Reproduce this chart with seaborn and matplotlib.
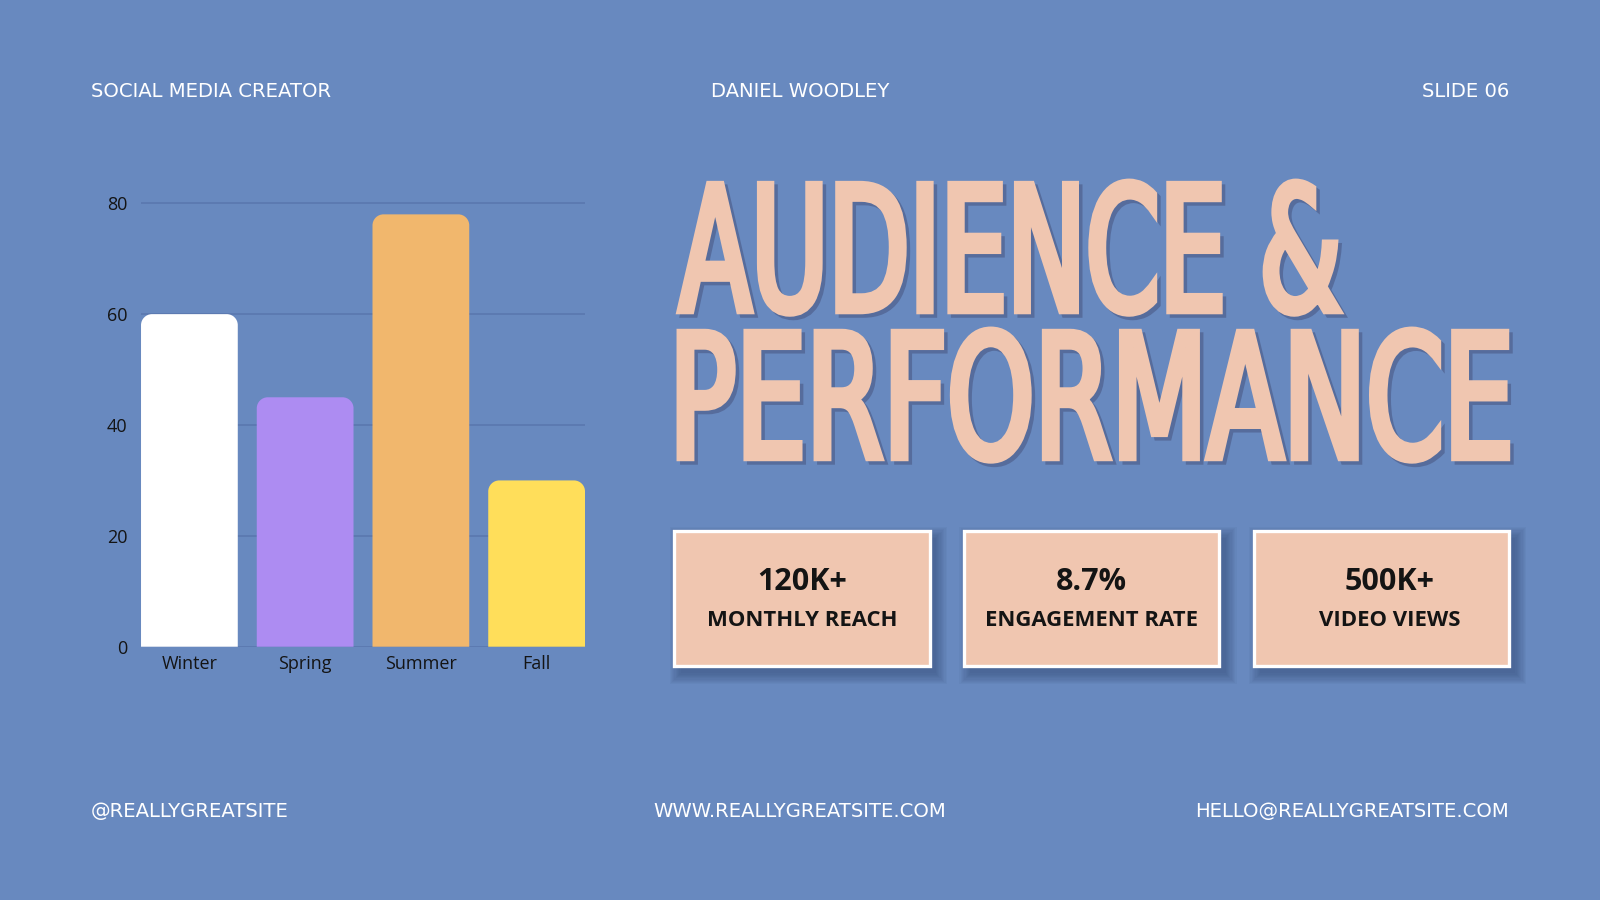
import numpy as np
import pandas as pd
import matplotlib
matplotlib.use("Agg")
import matplotlib.pyplot as plt
import seaborn as sns
from matplotlib.path import Path
from matplotlib.patches import PathPatch, Rectangle
from matplotlib.patheffects import AbstractPathEffect
from matplotlib.transforms import Affine2D
from matplotlib.textpath import TextPath
from matplotlib.font_manager import FontProperties
from matplotlib.colors import to_rgba

# ---------------- data ----------------
seasons = ["Winter", "Spring", "Summer", "Fall"]
values = [60, 45, 78, 30]
bar_colors = ["#FFFFFF", "#AD8CF2", "#F1B76D", "#FFDE5A"]
y_ticks = [0, 20, 40, 60, 80]

stat_values = ["120K+", "8.7%", "500K+"]
stat_labels = ["MONTHLY REACH", "ENGAGEMENT RATE", "VIDEO VIEWS"]

header_texts = ["SOCIAL MEDIA CREATOR", "DANIEL WOODLEY", "SLIDE 06"]
footer_texts = ["@REALLYGREATSITE", "WWW.REALLYGREATSITE.COM", "HELLO@REALLYGREATSITE.COM"]
title_lines = ["AUDIENCE &", "PERFORMANCE"]

# ---------------- style ----------------
BG = "#6889BF"
GRID = "#5A78AF"
PEACH = "#F0C6B0"
DARK = "#141414"
TITLE_SHADOW = "#566C9C"

sns.set_theme(style="white")
plt.rcParams["font.family"] = ["Open Sans", "DejaVu Sans"]

DPI = 100
fig = plt.figure(figsize=(16, 9), dpi=DPI, facecolor=BG)
FW, FH = 1600, 900
W, H = 1568.0, 882.0  # layout reference grid


def fx(x):
    return x / W


def fy(y):
    return 1 - y / H


# ---------------- bar chart ----------------
zero_y, unit_px = 633.8, 5.4325
ymax = 82
ax_left, ax_right = 138.2, 573.3
ax = fig.add_axes([fx(ax_left), fy(zero_y), fx(ax_right) - fx(ax_left),
                   fy(zero_y - ymax * unit_px) - fy(zero_y)])
ax.set_facecolor("none")

df = pd.DataFrame({"season": seasons, "value": values})
bar_w = 0.836
sns.barplot(data=df, x="season", y="value", hue="season", palette=bar_colors,
            width=bar_w, saturation=1, legend=False, ax=ax, zorder=3)

half = bar_w / 2
ax.set_xlim(-half, len(seasons) - 1 + half)
ax.set_ylim(0, ymax)
ax.set_yticks(y_ticks)
ax.set_xlabel("")
ax.set_ylabel("")
ax.set_axisbelow(True)
ax.yaxis.grid(True, color=GRID, lw=1.2)
ax.xaxis.grid(False)
sns.despine(ax=ax, left=True, bottom=True)
ax.tick_params(axis="y", length=0, pad=10, labelsize=13, labelcolor=DARK)
ax.tick_params(axis="x", length=0, pad=6, labelsize=13, labelcolor=DARK)

# round the top corners of each bar
pos = ax.get_position()
px_per_x = pos.width * FW / (ax.get_xlim()[1] - ax.get_xlim()[0])
px_per_y = pos.height * FH / (ax.get_ylim()[1] - ax.get_ylim()[0])
r_px = 11.0
rx, ry = r_px / px_per_x, r_px / px_per_y
k = 0.5523
for p in list(ax.patches):
    x0, w, h = p.get_x(), p.get_width(), p.get_height()
    x1 = x0 + w
    fc = p.get_facecolor()
    verts = [(x0, 0), (x0, h - ry),
             (x0, h - ry + k * ry), (x0 + rx - k * rx, h), (x0 + rx, h),
             (x1 - rx, h),
             (x1 - rx + k * rx, h), (x1, h - ry + k * ry), (x1, h - ry),
             (x1, 0), (x0, 0)]
    codes = [Path.MOVETO, Path.LINETO,
             Path.CURVE4, Path.CURVE4, Path.CURVE4,
             Path.LINETO,
             Path.CURVE4, Path.CURVE4, Path.CURVE4,
             Path.LINETO, Path.CLOSEPOLY]
    p.remove()
    ax.add_patch(PathPatch(Path(verts, codes), facecolor=fc, edgecolor="none", zorder=3))

# ---------------- header / footer ----------------
hdr_kw = dict(color="white", fontsize=14.1, va="center", family=["DejaVu Sans"])
fig.text(fx(89), fy(89.5), header_texts[0], ha="left", **hdr_kw)
fig.text(fx(784), fy(89.5), header_texts[1], ha="center", **hdr_kw)
fig.text(fx(1479), fy(89.5), header_texts[2], ha="right", **hdr_kw)
fig.text(fx(89), fy(795), footer_texts[0], ha="left", **hdr_kw)
fig.text(fx(784), fy(795), footer_texts[1], ha="center", **hdr_kw)
fig.text(fx(1479), fy(795), footer_texts[2], ha="right", **hdr_kw)


# ---------------- title ----------------
class StretchText(AbstractPathEffect):
    """Draw the glyph outlines of a text stretched vertically about its baseline."""

    def __init__(self, sy, color=None, stroke=0.0, offset_px=(0, 0)):
        super().__init__()
        self.sy = sy
        self.color = color
        self.stroke = stroke
        self.offset_px = offset_px

    def draw_path(self, renderer, gc, tpath, affine, rgbFace=None):
        aff = (Affine2D().scale(1.0, self.sy) + affine
               + Affine2D().translate(*self.offset_px))
        gc0 = renderer.new_gc()
        gc0.copy_properties(gc)
        face = to_rgba(self.color) if self.color is not None else rgbFace
        if self.stroke > 0:
            gc0.set_linewidth(self.stroke)
            gc0.set_foreground(face)
            gc0.set_joinstyle("miter")
        else:
            gc0.set_linewidth(0)
        renderer.draw_path(gc0, tpath, aff, face)
        gc0.restore()


title_family = ["DejaVu Sans"]
title_weight = "normal"
REF = 100
to_px = DPI / 72
# targets in reference grid: (left, right, cap top, baseline)
title_boxes = [(663, 1315, 175, 308), (663, 1480, 320, 452)]
stroke_pt = 5.0
stroke_px = stroke_pt * to_px
scale = FW / W
for line, (l, r, top, base) in zip(title_lines, title_boxes):
    ref_prop = FontProperties(family=title_family, weight=title_weight, size=REF)
    ext = TextPath((0, 0), line, prop=ref_prop, size=REF).get_extents()
    tw = (r - l) * scale - stroke_px
    th = (base - top) * scale - stroke_px
    fsize = REF * tw / (ext.width * to_px)
    k_size = fsize / REF
    sy = th / (ext.y1 * k_size * to_px)
    prop = FontProperties(family=title_family, weight=title_weight, size=fsize)
    x_px = l * scale + stroke_px / 2 - ext.x0 * k_size * to_px
    fig.text(x_px / FW, fy(base) + stroke_px / 2 / FH, line, fontproperties=prop,
             color=PEACH, ha="left", va="baseline",
             path_effects=[StretchText(sy, color=TITLE_SHADOW, stroke=stroke_pt, offset_px=(3.5, -3.5)),
                           StretchText(sy, stroke=stroke_pt)])

# ---------------- stat boxes ----------------
box_x = [(661, 911), (945, 1195), (1229, 1479)]
box_top, box_bot = 520, 653
text_cx = [786, 1070, 1362]
for (bx0, bx1), cx, val, lab in zip(box_x, text_cx, stat_values, stat_labels):
    # soft shadow
    for i in range(10):
        grow = i * 1.2
        fig.patches.append(Rectangle(
            (fx(bx0 + 6 - grow), fy(box_bot + 7 + grow)),
            fx(bx1 - bx0 + 2 * grow), (box_bot - box_top + 2 * grow) / H,
            transform=fig.transFigure, facecolor="#22355C", edgecolor="none",
            alpha=0.045, zorder=1))
    fig.patches.append(Rectangle(
        (fx(bx0), fy(box_bot)), fx(bx1 - bx0), (box_bot - box_top) / H,
        transform=fig.transFigure, facecolor=PEACH, edgecolor="white",
        lw=2.4, zorder=2))
    fig.text(fx(cx), fy(570), val, ha="center", va="center", fontsize=22,
             fontweight="bold", color=DARK, zorder=3)
    fig.text(fx(cx), fy(608.5), lab, ha="center", va="center", fontsize=15.9,
             fontweight="bold", color=DARK, zorder=3)

fig.savefig("out.png", dpi=DPI, facecolor=BG)
